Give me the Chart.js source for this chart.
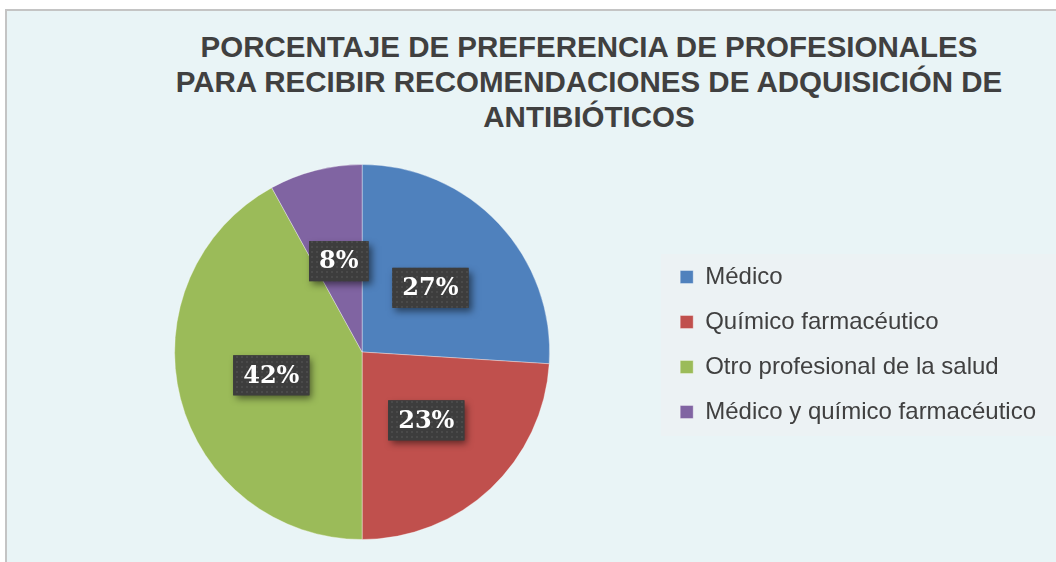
<!DOCTYPE html>
<html lang="es">
<head>
  <meta charset="UTF-8" />
  <meta name="viewport" content="width=device-width, initial-scale=1.0"/>
  <title>Preferencia de profesionales - antibióticos</title>
  <script src="https://cdn.jsdelivr.net/npm/chart.js"></script>
  <style>
    html, body {
      margin: 0;
      overflow: hidden;
      background: #fff;
      font-family: 'Liberation Sans', Arial, sans-serif;
    }
    .marco {
      position: absolute;
      left: 5px;
      top: 9px;
      width: 1070px;
      height: 570px;
      border: 2px solid #c4c4c4;
      background: #e9f4f6;
    }
    .caja-leyenda {
      position: absolute;
      left: 661px;
      top: 254px;
      width: 420px;
      height: 182px;
      background: #ecf2f4;
    }
    h1 {
      position: absolute;
      left: 0;
      top: 29px;
      width: 1178px;
      margin: 0;
      text-align: center;
      font-size: 29.5px;
      line-height: 35px;
      font-weight: bold;
      color: #404040;
    }
    .grafico {
      position: absolute;
      left: 0;
      top: 0;
      width: 1056px;
      height: 562px;
    }
  </style>
</head>
<body>
  <div class="marco"></div>
  <div class="caja-leyenda"></div>
  <h1>PORCENTAJE DE PREFERENCIA DE PROFESIONALES<br>PARA RECIBIR RECOMENDACIONES DE ADQUISICIÓN DE<br>ANTIBIÓTICOS</h1>
  <div class="grafico"><canvas id="torta"></canvas></div>

  <script>
    const categorias = ['Médico', 'Químico farmacéutico', 'Otro profesional de la salud', 'Médico y químico farmacéutico'];
    // tamaño de cada porción
    const valores = [26, 24, 42, 8];
    // texto de las etiquetas tal como aparece en el gráfico
    const etiquetasTexto = ['27%', '23%', '42%', '8%'];

    // fondo punteado de las etiquetas
    function patronPuntos(ctx) {
      const c = document.createElement('canvas');
      c.width = 5; c.height = 5;
      const p = c.getContext('2d');
      p.fillStyle = '#3d3d3d';
      p.fillRect(0, 0, 5, 5);
      p.fillStyle = '#4a4a4a';
      p.fillRect(1, 1, 2, 2);
      return ctx.createPattern(c, 'repeat');
    }

    const etiquetas = {
      id: 'etiquetas',
      afterDatasetsDraw(chart) {
        const ctx = chart.ctx;
        const patron = patronPuntos(ctx);
        ctx.save();
        ctx.font = 'bold 24px "DejaVu Serif", serif';
        ctx.textAlign = 'center';
        ctx.textBaseline = 'middle';
        chart.getDatasetMeta(0).data.forEach((arco, i) => {
          const { x, y } = arco.tooltipPosition();
          const texto = etiquetasTexto[i];
          const w = ctx.measureText(texto).width + 20;
          const h = 40;
          ctx.save();
          ctx.shadowColor = 'rgba(0,0,0,0.5)';
          ctx.shadowBlur = 7;
          ctx.shadowOffsetX = 3;
          ctx.shadowOffsetY = 4;
          ctx.fillStyle = '#3d3d3d';
          ctx.fillRect(x - w / 2, y - h / 2, w, h);
          ctx.restore();
          ctx.fillStyle = patron;
          ctx.fillRect(x - w / 2, y - h / 2, w, h);
          ctx.fillStyle = '#ffffff';
          ctx.fillText(texto, x, y + 1);
        });
        ctx.restore();
      }
    };

    // la leyenda queda un poco más arriba que el centro de la torta
    const subirLeyenda = {
      id: 'subirLeyenda',
      afterLayout(chart) {
        chart.legend.top -= 7.5;
        chart.legend.bottom -= 7.5;
      }
    };

    new Chart(document.getElementById('torta'), {
      type: 'pie',
      data: {
        labels: categorias,
        datasets: [{
          data: valores,
          backgroundColor: ['#4f81bd', '#c0504d', '#9bbb59', '#8064a2'],
          borderColor: 'rgba(255,255,255,0.35)',
          borderWidth: 1
        }]
      },
      options: {
        responsive: true,
        maintainAspectRatio: false,
        animation: false,
        events: [],
        layout: { padding: { top: 164, bottom: 22, left: 65, right: 10 } },
        plugins: {
          legend: {
            position: 'right',
            labels: {
              boxWidth: 13,
              boxHeight: 13,
              padding: 21,
              color: '#404040',
              font: { family: "'Liberation Sans', Arial, sans-serif", size: 24 }
            }
          },
          tooltip: { enabled: false }
        }
      },
      plugins: [etiquetas, subirLeyenda]
    });
  </script>
</body>
</html>
